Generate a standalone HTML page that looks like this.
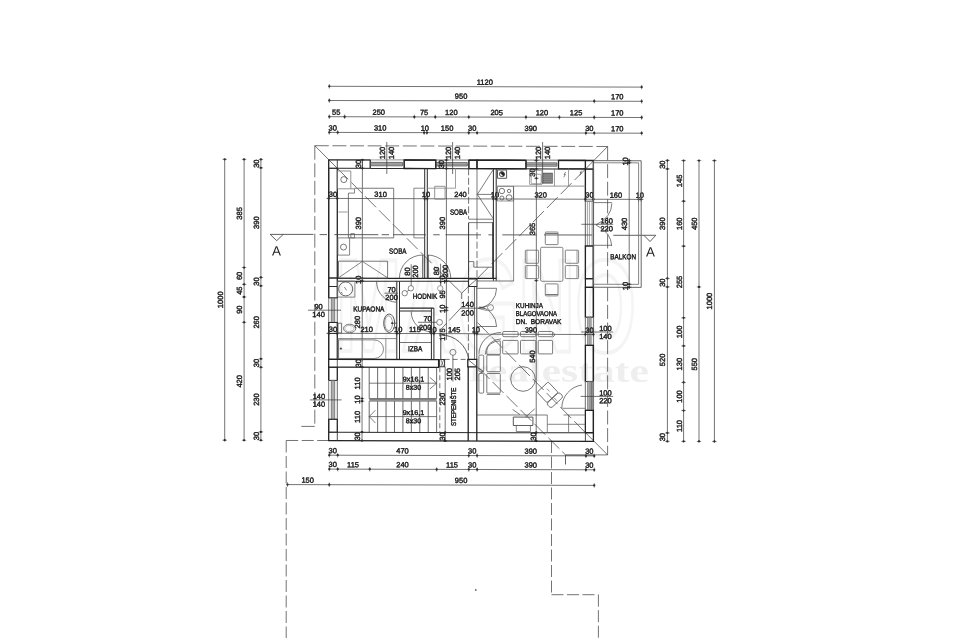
<!DOCTYPE html>
<html><head><meta charset="utf-8"><title>Floor plan</title>
<style>
html,body{margin:0;padding:0;background:#fff;}
body{width:979px;height:638px;overflow:hidden;font-family:"Liberation Sans",sans-serif;}
svg{display:block;position:absolute;left:0;top:0;font-family:"Liberation Sans",sans-serif;text-rendering:geometricPrecision;}
</style></head><body>
<svg width="979" height="638" viewBox="0 0 979 638">
<rect width="979" height="638" fill="#fff"/>
<defs><filter id="nf" x="0" y="0" width="979" height="638" filterUnits="userSpaceOnUse"><feOffset dx="0" dy="0"/></filter></defs>
<g filter="url(#nf)"><g transform="translate(329 160) skewY(0.15) translate(-329 -160)">
<line x1="329.3" y1="86.3" x2="641.67" y2="86.3" stroke="#383838" stroke-width="0.7"/>
<circle cx="329.3" cy="86.3" r="1.15" fill="#222"/>
<line x1="329.3" y1="84.1" x2="329.3" y2="88.5" stroke="#383838" stroke-width="0.6"/>
<circle cx="641.67" cy="86.3" r="1.15" fill="#222"/>
<line x1="641.67" y1="84.1" x2="641.67" y2="88.5" stroke="#383838" stroke-width="0.6"/>
<text x="484.78" y="84.3" font-size="7.5" text-anchor="middle" fill="#222" stroke="#222" stroke-width="0.42">1120</text>
<line x1="329.3" y1="100.5" x2="641.67" y2="100.5" stroke="#383838" stroke-width="0.7"/>
<circle cx="329.3" cy="100.5" r="1.15" fill="#222"/>
<line x1="329.3" y1="98.3" x2="329.3" y2="102.7" stroke="#383838" stroke-width="0.6"/>
<circle cx="594.25" cy="100.5" r="1.15" fill="#222"/>
<line x1="594.25" y1="98.3" x2="594.25" y2="102.7" stroke="#383838" stroke-width="0.6"/>
<circle cx="641.67" cy="100.5" r="1.15" fill="#222"/>
<line x1="641.67" y1="98.3" x2="641.67" y2="102.7" stroke="#383838" stroke-width="0.6"/>
<text x="461.08" y="98.5" font-size="7.5" text-anchor="middle" fill="#222" stroke="#222" stroke-width="0.42">950</text>
<text x="617.26" y="98.5" font-size="7.5" text-anchor="middle" fill="#222" stroke="#222" stroke-width="0.42">170</text>
<line x1="329.3" y1="116.7" x2="641.67" y2="116.7" stroke="#383838" stroke-width="0.7"/>
<circle cx="329.3" cy="116.7" r="1.15" fill="#222"/>
<line x1="329.3" y1="114.5" x2="329.3" y2="118.9" stroke="#383838" stroke-width="0.6"/>
<circle cx="344.64" cy="116.7" r="1.15" fill="#222"/>
<line x1="344.64" y1="114.5" x2="344.64" y2="118.9" stroke="#383838" stroke-width="0.6"/>
<circle cx="414.36" cy="116.7" r="1.15" fill="#222"/>
<line x1="414.36" y1="114.5" x2="414.36" y2="118.9" stroke="#383838" stroke-width="0.6"/>
<circle cx="435.28" cy="116.7" r="1.15" fill="#222"/>
<line x1="435.28" y1="114.5" x2="435.28" y2="118.9" stroke="#383838" stroke-width="0.6"/>
<circle cx="468.75" cy="116.7" r="1.15" fill="#222"/>
<line x1="468.75" y1="114.5" x2="468.75" y2="118.9" stroke="#383838" stroke-width="0.6"/>
<circle cx="525.92" cy="116.7" r="1.15" fill="#222"/>
<line x1="525.92" y1="114.5" x2="525.92" y2="118.9" stroke="#383838" stroke-width="0.6"/>
<circle cx="559.39" cy="116.7" r="1.15" fill="#222"/>
<line x1="559.39" y1="114.5" x2="559.39" y2="118.9" stroke="#383838" stroke-width="0.6"/>
<circle cx="594.25" cy="116.7" r="1.15" fill="#222"/>
<line x1="594.25" y1="114.5" x2="594.25" y2="118.9" stroke="#383838" stroke-width="0.6"/>
<circle cx="641.67" cy="116.7" r="1.15" fill="#222"/>
<line x1="641.67" y1="114.5" x2="641.67" y2="118.9" stroke="#383838" stroke-width="0.6"/>
<text x="336.27" y="114.7" font-size="7.5" text-anchor="middle" fill="#222" stroke="#222" stroke-width="0.42">55</text>
<text x="378.8" y="114.7" font-size="7.5" text-anchor="middle" fill="#222" stroke="#222" stroke-width="0.42">250</text>
<text x="424.12" y="114.7" font-size="7.5" text-anchor="middle" fill="#222" stroke="#222" stroke-width="0.42">75</text>
<text x="451.32" y="114.7" font-size="7.5" text-anchor="middle" fill="#222" stroke="#222" stroke-width="0.42">120</text>
<text x="496.64" y="114.7" font-size="7.5" text-anchor="middle" fill="#222" stroke="#222" stroke-width="0.42">205</text>
<text x="541.96" y="114.7" font-size="7.5" text-anchor="middle" fill="#222" stroke="#222" stroke-width="0.42">120</text>
<text x="576.12" y="114.7" font-size="7.5" text-anchor="middle" fill="#222" stroke="#222" stroke-width="0.42">125</text>
<text x="617.26" y="114.7" font-size="7.5" text-anchor="middle" fill="#222" stroke="#222" stroke-width="0.42">170</text>
<line x1="329.3" y1="132.4" x2="641.67" y2="132.4" stroke="#383838" stroke-width="0.7"/>
<circle cx="329.3" cy="132.4" r="1.15" fill="#222"/>
<line x1="329.3" y1="130.2" x2="329.3" y2="134.6" stroke="#383838" stroke-width="0.6"/>
<circle cx="337.67" cy="132.4" r="1.15" fill="#222"/>
<line x1="337.67" y1="130.2" x2="337.67" y2="134.6" stroke="#383838" stroke-width="0.6"/>
<circle cx="424.13" cy="132.4" r="1.15" fill="#222"/>
<line x1="424.13" y1="130.2" x2="424.13" y2="134.6" stroke="#383838" stroke-width="0.6"/>
<circle cx="426.92" cy="132.4" r="1.15" fill="#222"/>
<line x1="426.92" y1="130.2" x2="426.92" y2="134.6" stroke="#383838" stroke-width="0.6"/>
<circle cx="468.75" cy="132.4" r="1.15" fill="#222"/>
<line x1="468.75" y1="130.2" x2="468.75" y2="134.6" stroke="#383838" stroke-width="0.6"/>
<circle cx="477.12" cy="132.4" r="1.15" fill="#222"/>
<line x1="477.12" y1="130.2" x2="477.12" y2="134.6" stroke="#383838" stroke-width="0.6"/>
<circle cx="585.89" cy="132.4" r="1.15" fill="#222"/>
<line x1="585.89" y1="130.2" x2="585.89" y2="134.6" stroke="#383838" stroke-width="0.6"/>
<circle cx="594.25" cy="132.4" r="1.15" fill="#222"/>
<line x1="594.25" y1="130.2" x2="594.25" y2="134.6" stroke="#383838" stroke-width="0.6"/>
<circle cx="641.67" cy="132.4" r="1.15" fill="#222"/>
<line x1="641.67" y1="130.2" x2="641.67" y2="134.6" stroke="#383838" stroke-width="0.6"/>
<text x="332.78" y="130.4" font-size="7.5" text-anchor="middle" fill="#222" stroke="#222" stroke-width="0.42">30</text>
<text x="380.2" y="130.4" font-size="7.5" text-anchor="middle" fill="#222" stroke="#222" stroke-width="0.42">310</text>
<text x="424.82" y="130.4" font-size="7.5" text-anchor="middle" fill="#222" stroke="#222" stroke-width="0.42">10</text>
<text x="447.13" y="130.4" font-size="7.5" text-anchor="middle" fill="#222" stroke="#222" stroke-width="0.42">150</text>
<text x="472.23" y="130.4" font-size="7.5" text-anchor="middle" fill="#222" stroke="#222" stroke-width="0.42">30</text>
<text x="530.8" y="130.4" font-size="7.5" text-anchor="middle" fill="#222" stroke="#222" stroke-width="0.42">390</text>
<text x="589.37" y="130.4" font-size="7.5" text-anchor="middle" fill="#222" stroke="#222" stroke-width="0.42">30</text>
<text x="617.26" y="130.4" font-size="7.5" text-anchor="middle" fill="#222" stroke="#222" stroke-width="0.42">170</text>
<line x1="329.3" y1="455.2" x2="594.25" y2="455.2" stroke="#383838" stroke-width="0.7"/>
<circle cx="329.3" cy="455.2" r="1.15" fill="#222"/>
<line x1="329.3" y1="453" x2="329.3" y2="457.4" stroke="#383838" stroke-width="0.6"/>
<circle cx="337.67" cy="455.2" r="1.15" fill="#222"/>
<line x1="337.67" y1="453" x2="337.67" y2="457.4" stroke="#383838" stroke-width="0.6"/>
<circle cx="468.75" cy="455.2" r="1.15" fill="#222"/>
<line x1="468.75" y1="453" x2="468.75" y2="457.4" stroke="#383838" stroke-width="0.6"/>
<circle cx="477.12" cy="455.2" r="1.15" fill="#222"/>
<line x1="477.12" y1="453" x2="477.12" y2="457.4" stroke="#383838" stroke-width="0.6"/>
<circle cx="585.89" cy="455.2" r="1.15" fill="#222"/>
<line x1="585.89" y1="453" x2="585.89" y2="457.4" stroke="#383838" stroke-width="0.6"/>
<circle cx="594.25" cy="455.2" r="1.15" fill="#222"/>
<line x1="594.25" y1="453" x2="594.25" y2="457.4" stroke="#383838" stroke-width="0.6"/>
<text x="332.78" y="453.2" font-size="7.5" text-anchor="middle" fill="#222" stroke="#222" stroke-width="0.42">30</text>
<text x="402.51" y="453.2" font-size="7.5" text-anchor="middle" fill="#222" stroke="#222" stroke-width="0.42">470</text>
<text x="472.23" y="453.2" font-size="7.5" text-anchor="middle" fill="#222" stroke="#222" stroke-width="0.42">30</text>
<text x="530.8" y="453.2" font-size="7.5" text-anchor="middle" fill="#222" stroke="#222" stroke-width="0.42">390</text>
<text x="589.37" y="453.2" font-size="7.5" text-anchor="middle" fill="#222" stroke="#222" stroke-width="0.42">30</text>
<line x1="329.3" y1="469.1" x2="594.25" y2="469.1" stroke="#383838" stroke-width="0.7"/>
<circle cx="329.3" cy="469.1" r="1.15" fill="#222"/>
<line x1="329.3" y1="466.9" x2="329.3" y2="471.3" stroke="#383838" stroke-width="0.6"/>
<circle cx="337.67" cy="469.1" r="1.15" fill="#222"/>
<line x1="337.67" y1="466.9" x2="337.67" y2="471.3" stroke="#383838" stroke-width="0.6"/>
<circle cx="369.74" cy="469.1" r="1.15" fill="#222"/>
<line x1="369.74" y1="466.9" x2="369.74" y2="471.3" stroke="#383838" stroke-width="0.6"/>
<circle cx="436.68" cy="469.1" r="1.15" fill="#222"/>
<line x1="436.68" y1="466.9" x2="436.68" y2="471.3" stroke="#383838" stroke-width="0.6"/>
<circle cx="468.75" cy="469.1" r="1.15" fill="#222"/>
<line x1="468.75" y1="466.9" x2="468.75" y2="471.3" stroke="#383838" stroke-width="0.6"/>
<circle cx="477.12" cy="469.1" r="1.15" fill="#222"/>
<line x1="477.12" y1="466.9" x2="477.12" y2="471.3" stroke="#383838" stroke-width="0.6"/>
<circle cx="585.89" cy="469.1" r="1.15" fill="#222"/>
<line x1="585.89" y1="466.9" x2="585.89" y2="471.3" stroke="#383838" stroke-width="0.6"/>
<circle cx="594.25" cy="469.1" r="1.15" fill="#222"/>
<line x1="594.25" y1="466.9" x2="594.25" y2="471.3" stroke="#383838" stroke-width="0.6"/>
<text x="332.78" y="467.1" font-size="7.5" text-anchor="middle" fill="#222" stroke="#222" stroke-width="0.42">30</text>
<text x="353" y="467.1" font-size="7.5" text-anchor="middle" fill="#222" stroke="#222" stroke-width="0.42">115</text>
<text x="402.51" y="467.1" font-size="7.5" text-anchor="middle" fill="#222" stroke="#222" stroke-width="0.42">240</text>
<text x="452.01" y="467.1" font-size="7.5" text-anchor="middle" fill="#222" stroke="#222" stroke-width="0.42">115</text>
<text x="472.23" y="467.1" font-size="7.5" text-anchor="middle" fill="#222" stroke="#222" stroke-width="0.42">30</text>
<text x="530.8" y="467.1" font-size="7.5" text-anchor="middle" fill="#222" stroke="#222" stroke-width="0.42">390</text>
<text x="589.37" y="467.1" font-size="7.5" text-anchor="middle" fill="#222" stroke="#222" stroke-width="0.42">30</text>
<line x1="287.47" y1="484.7" x2="594.25" y2="484.7" stroke="#383838" stroke-width="0.7"/>
<circle cx="287.47" cy="484.7" r="1.15" fill="#222"/>
<line x1="287.47" y1="482.5" x2="287.47" y2="486.9" stroke="#383838" stroke-width="0.6"/>
<circle cx="329.3" cy="484.7" r="1.15" fill="#222"/>
<line x1="329.3" y1="482.5" x2="329.3" y2="486.9" stroke="#383838" stroke-width="0.6"/>
<circle cx="594.25" cy="484.7" r="1.15" fill="#222"/>
<line x1="594.25" y1="482.5" x2="594.25" y2="486.9" stroke="#383838" stroke-width="0.6"/>
<text x="307.68" y="482.7" font-size="7.5" text-anchor="middle" fill="#222" stroke="#222" stroke-width="0.42">150</text>
<text x="461.08" y="482.7" font-size="7.5" text-anchor="middle" fill="#222" stroke="#222" stroke-width="0.42">950</text>
<line x1="224.7" y1="159.6" x2="224.7" y2="440.5" stroke="#383838" stroke-width="0.7"/>
<circle cx="224.7" cy="159.6" r="1.15" fill="#222"/>
<line x1="222.5" y1="159.6" x2="226.9" y2="159.6" stroke="#383838" stroke-width="0.6"/>
<circle cx="224.7" cy="440.5" r="1.15" fill="#222"/>
<line x1="222.5" y1="440.5" x2="226.9" y2="440.5" stroke="#383838" stroke-width="0.6"/>
<text x="222.7" y="300.05" font-size="7.5" text-anchor="middle" fill="#222" stroke="#222" stroke-width="0.42" transform="rotate(-90 222.7 300.05)">1000</text>
<line x1="244.1" y1="159.6" x2="244.1" y2="440.5" stroke="#383838" stroke-width="0.7"/>
<circle cx="244.1" cy="159.6" r="1.15" fill="#222"/>
<line x1="241.9" y1="159.6" x2="246.3" y2="159.6" stroke="#383838" stroke-width="0.6"/>
<circle cx="244.1" cy="267.75" r="1.15" fill="#222"/>
<line x1="241.9" y1="267.75" x2="246.3" y2="267.75" stroke="#383838" stroke-width="0.6"/>
<circle cx="244.1" cy="284.6" r="1.15" fill="#222"/>
<line x1="241.9" y1="284.6" x2="246.3" y2="284.6" stroke="#383838" stroke-width="0.6"/>
<circle cx="244.1" cy="297.24" r="1.15" fill="#222"/>
<line x1="241.9" y1="297.24" x2="246.3" y2="297.24" stroke="#383838" stroke-width="0.6"/>
<circle cx="244.1" cy="322.52" r="1.15" fill="#222"/>
<line x1="241.9" y1="322.52" x2="246.3" y2="322.52" stroke="#383838" stroke-width="0.6"/>
<circle cx="244.1" cy="440.5" r="1.15" fill="#222"/>
<line x1="241.9" y1="440.5" x2="246.3" y2="440.5" stroke="#383838" stroke-width="0.6"/>
<text x="242.1" y="213.67" font-size="7.5" text-anchor="middle" fill="#222" stroke="#222" stroke-width="0.42" transform="rotate(-90 242.1 213.67)">385</text>
<text x="242.1" y="276.17" font-size="7.5" text-anchor="middle" fill="#222" stroke="#222" stroke-width="0.42" transform="rotate(-90 242.1 276.17)">60</text>
<text x="242.1" y="290.92" font-size="7.5" text-anchor="middle" fill="#222" stroke="#222" stroke-width="0.42" transform="rotate(-90 242.1 290.92)">45</text>
<text x="242.1" y="309.88" font-size="7.5" text-anchor="middle" fill="#222" stroke="#222" stroke-width="0.42" transform="rotate(-90 242.1 309.88)">90</text>
<text x="242.1" y="381.51" font-size="7.5" text-anchor="middle" fill="#222" stroke="#222" stroke-width="0.42" transform="rotate(-90 242.1 381.51)">420</text>
<line x1="260.9" y1="159.6" x2="260.9" y2="440.5" stroke="#383838" stroke-width="0.7"/>
<circle cx="260.9" cy="159.6" r="1.15" fill="#222"/>
<line x1="258.7" y1="159.6" x2="263.1" y2="159.6" stroke="#383838" stroke-width="0.6"/>
<circle cx="260.9" cy="168.03" r="1.15" fill="#222"/>
<line x1="258.7" y1="168.03" x2="263.1" y2="168.03" stroke="#383838" stroke-width="0.6"/>
<circle cx="260.9" cy="277.58" r="1.15" fill="#222"/>
<line x1="258.7" y1="277.58" x2="263.1" y2="277.58" stroke="#383838" stroke-width="0.6"/>
<circle cx="260.9" cy="286" r="1.15" fill="#222"/>
<line x1="258.7" y1="286" x2="263.1" y2="286" stroke="#383838" stroke-width="0.6"/>
<circle cx="260.9" cy="359.04" r="1.15" fill="#222"/>
<line x1="258.7" y1="359.04" x2="263.1" y2="359.04" stroke="#383838" stroke-width="0.6"/>
<circle cx="260.9" cy="367.47" r="1.15" fill="#222"/>
<line x1="258.7" y1="367.47" x2="263.1" y2="367.47" stroke="#383838" stroke-width="0.6"/>
<circle cx="260.9" cy="432.07" r="1.15" fill="#222"/>
<line x1="258.7" y1="432.07" x2="263.1" y2="432.07" stroke="#383838" stroke-width="0.6"/>
<circle cx="260.9" cy="440.5" r="1.15" fill="#222"/>
<line x1="258.7" y1="440.5" x2="263.1" y2="440.5" stroke="#383838" stroke-width="0.6"/>
<text x="258.9" y="163.81" font-size="7.5" text-anchor="middle" fill="#222" stroke="#222" stroke-width="0.42" transform="rotate(-90 258.9 163.81)">30</text>
<text x="258.9" y="222.8" font-size="7.5" text-anchor="middle" fill="#222" stroke="#222" stroke-width="0.42" transform="rotate(-90 258.9 222.8)">390</text>
<text x="258.9" y="281.79" font-size="7.5" text-anchor="middle" fill="#222" stroke="#222" stroke-width="0.42" transform="rotate(-90 258.9 281.79)">30</text>
<text x="258.9" y="322.52" font-size="7.5" text-anchor="middle" fill="#222" stroke="#222" stroke-width="0.42" transform="rotate(-90 258.9 322.52)">260</text>
<text x="258.9" y="363.25" font-size="7.5" text-anchor="middle" fill="#222" stroke="#222" stroke-width="0.42" transform="rotate(-90 258.9 363.25)">30</text>
<text x="258.9" y="399.77" font-size="7.5" text-anchor="middle" fill="#222" stroke="#222" stroke-width="0.42" transform="rotate(-90 258.9 399.77)">230</text>
<text x="258.9" y="436.29" font-size="7.5" text-anchor="middle" fill="#222" stroke="#222" stroke-width="0.42" transform="rotate(-90 258.9 436.29)">30</text>
<line x1="667.4" y1="159.6" x2="667.4" y2="440.5" stroke="#383838" stroke-width="0.7"/>
<circle cx="667.4" cy="159.6" r="1.15" fill="#222"/>
<line x1="665.2" y1="159.6" x2="669.6" y2="159.6" stroke="#383838" stroke-width="0.6"/>
<circle cx="667.4" cy="168.03" r="1.15" fill="#222"/>
<line x1="665.2" y1="168.03" x2="669.6" y2="168.03" stroke="#383838" stroke-width="0.6"/>
<circle cx="667.4" cy="277.58" r="1.15" fill="#222"/>
<line x1="665.2" y1="277.58" x2="669.6" y2="277.58" stroke="#383838" stroke-width="0.6"/>
<circle cx="667.4" cy="286" r="1.15" fill="#222"/>
<line x1="665.2" y1="286" x2="669.6" y2="286" stroke="#383838" stroke-width="0.6"/>
<circle cx="667.4" cy="432.07" r="1.15" fill="#222"/>
<line x1="665.2" y1="432.07" x2="669.6" y2="432.07" stroke="#383838" stroke-width="0.6"/>
<circle cx="667.4" cy="440.5" r="1.15" fill="#222"/>
<line x1="665.2" y1="440.5" x2="669.6" y2="440.5" stroke="#383838" stroke-width="0.6"/>
<text x="665.4" y="163.81" font-size="7.5" text-anchor="middle" fill="#222" stroke="#222" stroke-width="0.42" transform="rotate(-90 665.4 163.81)">30</text>
<text x="665.4" y="222.8" font-size="7.5" text-anchor="middle" fill="#222" stroke="#222" stroke-width="0.42" transform="rotate(-90 665.4 222.8)">390</text>
<text x="665.4" y="281.79" font-size="7.5" text-anchor="middle" fill="#222" stroke="#222" stroke-width="0.42" transform="rotate(-90 665.4 281.79)">30</text>
<text x="665.4" y="359.04" font-size="7.5" text-anchor="middle" fill="#222" stroke="#222" stroke-width="0.42" transform="rotate(-90 665.4 359.04)">520</text>
<text x="665.4" y="436.29" font-size="7.5" text-anchor="middle" fill="#222" stroke="#222" stroke-width="0.42" transform="rotate(-90 665.4 436.29)">30</text>
<line x1="683.6" y1="159.6" x2="683.6" y2="440.5" stroke="#383838" stroke-width="0.7"/>
<circle cx="683.6" cy="159.6" r="1.15" fill="#222"/>
<line x1="681.4" y1="159.6" x2="685.8" y2="159.6" stroke="#383838" stroke-width="0.6"/>
<circle cx="683.6" cy="200.33" r="1.15" fill="#222"/>
<line x1="681.4" y1="200.33" x2="685.8" y2="200.33" stroke="#383838" stroke-width="0.6"/>
<circle cx="683.6" cy="245.27" r="1.15" fill="#222"/>
<line x1="681.4" y1="245.27" x2="685.8" y2="245.27" stroke="#383838" stroke-width="0.6"/>
<circle cx="683.6" cy="316.9" r="1.15" fill="#222"/>
<line x1="681.4" y1="316.9" x2="685.8" y2="316.9" stroke="#383838" stroke-width="0.6"/>
<circle cx="683.6" cy="344.99" r="1.15" fill="#222"/>
<line x1="681.4" y1="344.99" x2="685.8" y2="344.99" stroke="#383838" stroke-width="0.6"/>
<circle cx="683.6" cy="381.51" r="1.15" fill="#222"/>
<line x1="681.4" y1="381.51" x2="685.8" y2="381.51" stroke="#383838" stroke-width="0.6"/>
<circle cx="683.6" cy="409.6" r="1.15" fill="#222"/>
<line x1="681.4" y1="409.6" x2="685.8" y2="409.6" stroke="#383838" stroke-width="0.6"/>
<circle cx="683.6" cy="440.5" r="1.15" fill="#222"/>
<line x1="681.4" y1="440.5" x2="685.8" y2="440.5" stroke="#383838" stroke-width="0.6"/>
<text x="681.6" y="179.97" font-size="7.5" text-anchor="middle" fill="#222" stroke="#222" stroke-width="0.42" transform="rotate(-90 681.6 179.97)">145</text>
<text x="681.6" y="222.8" font-size="7.5" text-anchor="middle" fill="#222" stroke="#222" stroke-width="0.42" transform="rotate(-90 681.6 222.8)">160</text>
<text x="681.6" y="281.09" font-size="7.5" text-anchor="middle" fill="#222" stroke="#222" stroke-width="0.42" transform="rotate(-90 681.6 281.09)">255</text>
<text x="681.6" y="330.95" font-size="7.5" text-anchor="middle" fill="#222" stroke="#222" stroke-width="0.42" transform="rotate(-90 681.6 330.95)">100</text>
<text x="681.6" y="363.25" font-size="7.5" text-anchor="middle" fill="#222" stroke="#222" stroke-width="0.42" transform="rotate(-90 681.6 363.25)">130</text>
<text x="681.6" y="395.56" font-size="7.5" text-anchor="middle" fill="#222" stroke="#222" stroke-width="0.42" transform="rotate(-90 681.6 395.56)">100</text>
<text x="681.6" y="425.05" font-size="7.5" text-anchor="middle" fill="#222" stroke="#222" stroke-width="0.42" transform="rotate(-90 681.6 425.05)">110</text>
<line x1="699" y1="159.6" x2="699" y2="440.5" stroke="#383838" stroke-width="0.7"/>
<circle cx="699" cy="159.6" r="1.15" fill="#222"/>
<line x1="696.8" y1="159.6" x2="701.2" y2="159.6" stroke="#383838" stroke-width="0.6"/>
<circle cx="699" cy="286" r="1.15" fill="#222"/>
<line x1="696.8" y1="286" x2="701.2" y2="286" stroke="#383838" stroke-width="0.6"/>
<circle cx="699" cy="440.5" r="1.15" fill="#222"/>
<line x1="696.8" y1="440.5" x2="701.2" y2="440.5" stroke="#383838" stroke-width="0.6"/>
<text x="697" y="222.8" font-size="7.5" text-anchor="middle" fill="#222" stroke="#222" stroke-width="0.42" transform="rotate(-90 697 222.8)">450</text>
<text x="697" y="363.25" font-size="7.5" text-anchor="middle" fill="#222" stroke="#222" stroke-width="0.42" transform="rotate(-90 697 363.25)">550</text>
<line x1="714.4" y1="159.6" x2="714.4" y2="440.5" stroke="#383838" stroke-width="0.7"/>
<circle cx="714.4" cy="159.6" r="1.15" fill="#222"/>
<line x1="712.2" y1="159.6" x2="716.6" y2="159.6" stroke="#383838" stroke-width="0.6"/>
<circle cx="714.4" cy="440.5" r="1.15" fill="#222"/>
<line x1="712.2" y1="440.5" x2="716.6" y2="440.5" stroke="#383838" stroke-width="0.6"/>
<text x="712.4" y="300.05" font-size="7.5" text-anchor="middle" fill="#222" stroke="#222" stroke-width="0.42" transform="rotate(-90 712.4 300.05)">1000</text>
<text x="336" y="351" font-size="132" font-weight="bold" fill="none" stroke="#f4f4f4" stroke-width="4" textLength="300" lengthAdjust="spacingAndGlyphs">MAGNO</text>
<text x="469" y="381" font-size="33" font-weight="bold" font-family="Liberation Serif, serif" fill="#eeeeee" textLength="180" lengthAdjust="spacingAndGlyphs">realestate</text>
<line x1="314.8" y1="145.74" x2="607.6" y2="145.77" stroke="#383838" stroke-width="0.7" stroke-dasharray="14 3.6"/>
<line x1="607.6" y1="145.77" x2="607.6" y2="454.17" stroke="#383838" stroke-width="0.7" stroke-dasharray="14 3.6"/>
<line x1="314.8" y1="145.74" x2="314.8" y2="426.44" stroke="#383838" stroke-width="0.7" stroke-dasharray="14 3.6"/>
<line x1="314.8" y1="426.44" x2="301.3" y2="426.47" stroke="#383838" stroke-width="0.7" stroke-dasharray="14 3.6"/>
<line x1="607.6" y1="454.17" x2="594.5" y2="454.2" stroke="#383838" stroke-width="0.7" stroke-dasharray="14 3.6"/>
<line x1="565.5" y1="454.28" x2="565.5" y2="463.88" stroke="#383838" stroke-width="0.8"/>
<line x1="565.5" y1="454.28" x2="594" y2="454.21" stroke="#383838" stroke-width="1"/>
<line x1="286.2" y1="440.61" x2="329" y2="440.5" stroke="#383838" stroke-width="0.7" stroke-dasharray="12 3.5"/>
<line x1="286.2" y1="440.61" x2="286.2" y2="640.11" stroke="#383838" stroke-width="0.7" stroke-dasharray="12 3.5"/>
<line x1="551.5" y1="440.42" x2="551.5" y2="594.12" stroke="#383838" stroke-width="0.7" stroke-dasharray="12 3.5"/>
<line x1="551.5" y1="594.12" x2="598.4" y2="593.99" stroke="#383838" stroke-width="0.7" stroke-dasharray="12 3.5"/>
<line x1="598.4" y1="593.99" x2="598.4" y2="639.29" stroke="#383838" stroke-width="0.7" stroke-dasharray="12 3.5"/>
<line x1="314.8" y1="145.74" x2="337.3" y2="168.28" stroke="#383838" stroke-width="0.7"/>
<line x1="607.6" y1="145.77" x2="585.4" y2="168.43" stroke="#383838" stroke-width="0.7"/>
<line x1="607.6" y1="454.17" x2="585.4" y2="431.93" stroke="#383838" stroke-width="0.7"/>
<line x1="337.3" y1="168.28" x2="456.8" y2="288.17" stroke="#383838" stroke-width="0.7" stroke-dasharray="15.5 4.2"/>
<line x1="585.4" y1="168.43" x2="477.2" y2="278.21" stroke="#383838" stroke-width="0.7" stroke-dasharray="15.5 4.2"/>
<line x1="477" y1="278.61" x2="468.4" y2="286.04" stroke="#383838" stroke-width="0.7"/>
<line x1="468.4" y1="286.24" x2="461.7" y2="292.85" stroke="#383838" stroke-width="0.7"/>
<line x1="456.6" y1="287.87" x2="461.7" y2="292.85" stroke="#383838" stroke-width="0.7"/>
<line x1="461.7" y1="292.85" x2="461.7" y2="298.65" stroke="#383838" stroke-width="0.7"/>
<line x1="461.2" y1="307.25" x2="440.5" y2="329.51" stroke="#383838" stroke-width="0.7" stroke-dasharray="17.5 4"/>
<line x1="477.6" y1="322.21" x2="585.4" y2="431.93" stroke="#383838" stroke-width="0.7" stroke-dasharray="15.5 4.2"/>
<line x1="478.6" y1="367.61" x2="565.5" y2="454.28" stroke="#383838" stroke-width="0.7" stroke-dasharray="15.5 4.2"/>
<rect x="328.7" y="159.8" width="264.7" height="280.8" fill="none" stroke="#222" stroke-width="1.3"/>
<rect x="337.3" y="168.3" width="248.1" height="263.9" fill="none" stroke="#2a2a2a" stroke-width="1"/>
<line x1="337.3" y1="159.8" x2="337.3" y2="168.3" stroke="#383838" stroke-width="0.9"/>
<line x1="328.7" y1="168.3" x2="337.3" y2="168.3" stroke="#383838" stroke-width="0.9"/>
<line x1="585.4" y1="159.8" x2="585.4" y2="168.3" stroke="#383838" stroke-width="0.9"/>
<line x1="585.4" y1="168.3" x2="593.4" y2="168.3" stroke="#383838" stroke-width="0.9"/>
<line x1="585.4" y1="432.2" x2="585.4" y2="440.6" stroke="#383838" stroke-width="0.9"/>
<line x1="585.4" y1="432.2" x2="593.4" y2="432.2" stroke="#383838" stroke-width="0.9"/>
<line x1="337.3" y1="432.2" x2="337.3" y2="440.6" stroke="#383838" stroke-width="0.9"/>
<line x1="328.7" y1="432.2" x2="337.3" y2="432.2" stroke="#383838" stroke-width="0.9"/>
<rect x="370.5" y="159" width="33.7" height="10.1" fill="#fff" stroke="none" stroke-width="0"/>
<line x1="370.5" y1="159.8" x2="404.2" y2="159.8" stroke="#777" stroke-width="0.7"/>
<line x1="370.5" y1="168.3" x2="404.2" y2="168.3" stroke="#2c2c2c" stroke-width="1"/>
<line x1="370.5" y1="159.8" x2="370.5" y2="168.3" stroke="#2c2c2c" stroke-width="0.9"/>
<line x1="404.2" y1="159.8" x2="404.2" y2="168.3" stroke="#2c2c2c" stroke-width="0.9"/>
<rect x="370.5" y="162.25" width="32.1" height="3.4" fill="#b4b4b4" stroke="#444" stroke-width="0.7"/>
<line x1="370.5" y1="163.95" x2="402.6" y2="163.95" stroke="#666" stroke-width="0.6"/>
<rect x="435.8" y="159" width="33.1" height="10.1" fill="#fff" stroke="none" stroke-width="0"/>
<line x1="435.8" y1="159.8" x2="468.9" y2="159.8" stroke="#777" stroke-width="0.7"/>
<line x1="435.8" y1="168.3" x2="468.9" y2="168.3" stroke="#2c2c2c" stroke-width="1"/>
<line x1="435.8" y1="159.8" x2="435.8" y2="168.3" stroke="#2c2c2c" stroke-width="0.9"/>
<line x1="468.9" y1="159.8" x2="468.9" y2="168.3" stroke="#2c2c2c" stroke-width="0.9"/>
<rect x="435.8" y="162.25" width="31.5" height="3.4" fill="#b4b4b4" stroke="#444" stroke-width="0.7"/>
<line x1="435.8" y1="163.95" x2="467.3" y2="163.95" stroke="#666" stroke-width="0.6"/>
<rect x="526" y="159" width="32.5" height="10.1" fill="#fff" stroke="none" stroke-width="0"/>
<line x1="526" y1="159.8" x2="558.5" y2="159.8" stroke="#777" stroke-width="0.7"/>
<line x1="526" y1="168.3" x2="558.5" y2="168.3" stroke="#2c2c2c" stroke-width="1"/>
<line x1="526" y1="159.8" x2="526" y2="168.3" stroke="#2c2c2c" stroke-width="0.9"/>
<line x1="558.5" y1="159.8" x2="558.5" y2="168.3" stroke="#2c2c2c" stroke-width="0.9"/>
<rect x="526" y="162.25" width="30.9" height="3.4" fill="#b4b4b4" stroke="#444" stroke-width="0.7"/>
<line x1="526" y1="163.95" x2="556.9" y2="163.95" stroke="#666" stroke-width="0.6"/>
<rect x="404.2" y="159.8" width="31.6" height="8.5" fill="none" stroke="#222" stroke-width="1.3"/>
<rect x="468.9" y="159.8" width="8.1" height="8.5" fill="none" stroke="#222" stroke-width="1.2"/>
<rect x="477" y="159.8" width="49" height="8.5" fill="none" stroke="#222" stroke-width="1.3"/>
<rect x="558.5" y="159.8" width="26.9" height="8.5" fill="none" stroke="#222" stroke-width="1.3"/>
<line x1="362.4" y1="159.8" x2="362.4" y2="168.3" stroke="#383838" stroke-width="0.7"/>
<line x1="369.8" y1="159.8" x2="369.8" y2="168.3" stroke="#383838" stroke-width="0.7"/>
<rect x="585.4" y="168.42" width="8" height="32.3" fill="none" stroke="#222" stroke-width="1.3"/>
<rect x="584.6" y="200.72" width="9.6" height="44.6" fill="#fff" stroke="none" stroke-width="0"/>
<line x1="585.4" y1="200.73" x2="585.4" y2="245.33" stroke="#444" stroke-width="0.8"/>
<line x1="587.4" y1="200.72" x2="587.4" y2="245.32" stroke="#666" stroke-width="0.6"/>
<line x1="589.4" y1="200.72" x2="589.4" y2="245.32" stroke="#666" stroke-width="0.6"/>
<line x1="592" y1="200.71" x2="592" y2="245.31" stroke="#666" stroke-width="0.6"/>
<line x1="593.4" y1="200.71" x2="593.4" y2="245.31" stroke="#444" stroke-width="0.8"/>
<rect x="585.4" y="245.32" width="8" height="32.6" fill="none" stroke="#222" stroke-width="1.3"/>
<rect x="585.4" y="277.92" width="8" height="8.7" fill="none" stroke="#222" stroke-width="1.1"/>
<rect x="585.4" y="286.62" width="8" height="30" fill="none" stroke="#222" stroke-width="1.3"/>
<rect x="584.6" y="316.62" width="9.6" height="28" fill="#fff" stroke="none" stroke-width="0"/>
<line x1="585.4" y1="316.63" x2="585.4" y2="344.63" stroke="#555" stroke-width="0.8"/>
<line x1="593.4" y1="316.61" x2="593.4" y2="344.61" stroke="#444" stroke-width="0.8"/>
<line x1="585.4" y1="316.63" x2="593.4" y2="316.61" stroke="#2c2c2c" stroke-width="0.9"/>
<line x1="585.4" y1="344.63" x2="593.4" y2="344.61" stroke="#2c2c2c" stroke-width="0.9"/>
<rect x="587.7" y="316.62" width="3.4" height="28" fill="#c4c4c4" stroke="#555" stroke-width="0.7"/>
<line x1="589.4" y1="316.62" x2="589.4" y2="344.62" stroke="#777" stroke-width="0.6"/>
<rect x="585.4" y="344.62" width="8" height="36.3" fill="none" stroke="#222" stroke-width="1.3"/>
<rect x="584.6" y="380.92" width="9.6" height="28.7" fill="#fff" stroke="none" stroke-width="0"/>
<line x1="585.4" y1="380.93" x2="585.4" y2="409.63" stroke="#555" stroke-width="0.8"/>
<line x1="593.4" y1="380.91" x2="593.4" y2="409.61" stroke="#444" stroke-width="0.8"/>
<line x1="585.4" y1="380.93" x2="593.4" y2="380.91" stroke="#2c2c2c" stroke-width="0.9"/>
<line x1="585.4" y1="409.63" x2="593.4" y2="409.61" stroke="#2c2c2c" stroke-width="0.9"/>
<rect x="587.7" y="380.92" width="3.4" height="28.7" fill="#c4c4c4" stroke="#555" stroke-width="0.7"/>
<line x1="589.4" y1="380.92" x2="589.4" y2="409.62" stroke="#777" stroke-width="0.6"/>
<line x1="591.8" y1="380.91" x2="591.8" y2="409.61" stroke="#777" stroke-width="2"/>
<rect x="585.4" y="409.62" width="8" height="22.3" fill="none" stroke="#222" stroke-width="1.2"/>
<rect x="328.7" y="168.29" width="8.6" height="109.7" fill="none" stroke="#2a2a2a" stroke-width="1"/>
<rect x="328.7" y="277.99" width="8.6" height="8.5" fill="none" stroke="#2a2a2a" stroke-width="1"/>
<rect x="328.7" y="286.49" width="8.6" height="11.5" fill="none" stroke="#2a2a2a" stroke-width="1"/>
<rect x="327.9" y="297.99" width="10.2" height="24.4" fill="#fff" stroke="none" stroke-width="0"/>
<line x1="328.7" y1="298" x2="328.7" y2="322.4" stroke="#555" stroke-width="0.8"/>
<line x1="337.3" y1="297.98" x2="337.3" y2="322.38" stroke="#444" stroke-width="0.8"/>
<line x1="328.7" y1="298" x2="337.3" y2="297.98" stroke="#2c2c2c" stroke-width="0.9"/>
<line x1="328.7" y1="322.4" x2="337.3" y2="322.38" stroke="#2c2c2c" stroke-width="0.9"/>
<rect x="331.3" y="297.99" width="3.4" height="24.4" fill="#c4c4c4" stroke="#555" stroke-width="0.7"/>
<line x1="333" y1="297.99" x2="333" y2="322.39" stroke="#777" stroke-width="0.6"/>
<rect x="328.7" y="322.39" width="8.6" height="11" fill="none" stroke="#2a2a2a" stroke-width="1"/>
<rect x="328.7" y="333.39" width="8.6" height="26" fill="none" stroke="#2a2a2a" stroke-width="1"/>
<rect x="328.7" y="367.19" width="8.6" height="13.2" fill="none" stroke="#2a2a2a" stroke-width="1"/>
<rect x="327.9" y="380.39" width="10.2" height="38.9" fill="#fff" stroke="none" stroke-width="0"/>
<line x1="328.7" y1="380.4" x2="328.7" y2="419.3" stroke="#555" stroke-width="0.8"/>
<line x1="337.3" y1="380.38" x2="337.3" y2="419.28" stroke="#444" stroke-width="0.8"/>
<line x1="328.7" y1="380.4" x2="337.3" y2="380.38" stroke="#2c2c2c" stroke-width="0.9"/>
<line x1="328.7" y1="419.3" x2="337.3" y2="419.28" stroke="#2c2c2c" stroke-width="0.9"/>
<rect x="331.3" y="380.39" width="3.4" height="38.9" fill="#c4c4c4" stroke="#555" stroke-width="0.7"/>
<line x1="333" y1="380.39" x2="333" y2="419.29" stroke="#777" stroke-width="0.6"/>
<rect x="328.7" y="419.29" width="8.6" height="12.9" fill="none" stroke="#2a2a2a" stroke-width="1"/>
<line x1="424.7" y1="168.05" x2="424.7" y2="278.15" stroke="#2a2a2a" stroke-width="1"/>
<line x1="427.3" y1="168.04" x2="427.3" y2="278.14" stroke="#2a2a2a" stroke-width="1"/>
<line x1="493.4" y1="167.87" x2="493.4" y2="280.37" stroke="#2a2a2a" stroke-width="1"/>
<line x1="496.2" y1="167.86" x2="496.2" y2="280.36" stroke="#2a2a2a" stroke-width="1"/>
<line x1="337.3" y1="278.38" x2="496.2" y2="277.96" stroke="#222" stroke-width="1.3"/>
<line x1="337.3" y1="281.18" x2="468.4" y2="280.84" stroke="#2a2a2a" stroke-width="1"/>
<line x1="477" y1="280.61" x2="513.8" y2="280.52" stroke="#383838" stroke-width="0.7"/>
<rect x="468.4" y="278.62" width="8.6" height="7.4" fill="none" stroke="#2a2a2a" stroke-width="1"/>
<line x1="468.6" y1="167.93" x2="468.6" y2="218.83" stroke="#383838" stroke-width="0.7" stroke-dasharray="7 2.5"/>
<line x1="468.4" y1="286.04" x2="468.4" y2="359.04" stroke="#383838" stroke-width="0.7" stroke-dasharray="7 2.5"/>
<line x1="477" y1="222.21" x2="477" y2="278.61" stroke="#383838" stroke-width="0.7" stroke-dasharray="7 2.5"/>
<line x1="474.5" y1="286.02" x2="474.5" y2="359.02" stroke="#383838" stroke-width="0.7"/>
<line x1="476.8" y1="286.01" x2="476.8" y2="359.01" stroke="#383838" stroke-width="0.9"/>
<line x1="396.8" y1="281.02" x2="396.8" y2="359.22" stroke="#2a2a2a" stroke-width="1"/>
<line x1="399.5" y1="281.02" x2="399.5" y2="359.22" stroke="#2a2a2a" stroke-width="1"/>
<line x1="399.5" y1="307.92" x2="433.8" y2="307.83" stroke="#222" stroke-width="1.3"/>
<line x1="399.5" y1="310.82" x2="431.4" y2="310.73" stroke="#2a2a2a" stroke-width="1"/>
<line x1="431.4" y1="307.83" x2="431.4" y2="359.13" stroke="#2a2a2a" stroke-width="1"/>
<line x1="433.9" y1="307.83" x2="433.9" y2="359.13" stroke="#2a2a2a" stroke-width="1"/>
<line x1="399.5" y1="342.32" x2="431.4" y2="342.23" stroke="#383838" stroke-width="0.7"/>
<rect x="328.7" y="359.26" width="109.9" height="7.8" fill="#fff" stroke="#222" stroke-width="1.3"/>
<line x1="337.3" y1="359.38" x2="337.3" y2="367.18" stroke="#383838" stroke-width="0.8"/>
<rect x="439.6" y="359.1" width="5" height="7.4" fill="none" stroke="#333" stroke-width="1"/>
<line x1="441" y1="359.71" x2="443.6" y2="366.1" stroke="#383838" stroke-width="0.6"/>
<line x1="443.6" y1="359.7" x2="441" y2="366.11" stroke="#383838" stroke-width="0.6"/>
<line x1="444.6" y1="359.1" x2="467.8" y2="359.04" stroke="#383838" stroke-width="0.7" stroke-dasharray="5 3"/>
<rect x="467.8" y="359.02" width="9" height="7.4" fill="none" stroke="#222" stroke-width="1.3"/>
<line x1="467.8" y1="359.04" x2="476.8" y2="366.41" stroke="#383838" stroke-width="0.7"/>
<line x1="468.2" y1="366.44" x2="468.2" y2="440.64" stroke="#222" stroke-width="1.3"/>
<line x1="476.8" y1="366.41" x2="476.8" y2="440.61" stroke="#222" stroke-width="1.3"/>
<line x1="439.8" y1="366.91" x2="439.8" y2="431.91" stroke="#383838" stroke-width="0.7" stroke-dasharray="5 3"/>
<line x1="445.2" y1="366.5" x2="445.2" y2="440.3" stroke="#383838" stroke-width="0.7"/>
<line x1="270.2" y1="234.55" x2="313.5" y2="234.44" stroke="#383838" stroke-width="0.8"/>
<polyline points="270.2,234.55 276.7,240.84 283.2,234.52" fill="none" stroke="#383838" stroke-width="0.8"/>
<text x="276.5" y="255.6" font-size="13.4" text-anchor="middle" fill="#222">A</text>
<line x1="319.6" y1="234.62" x2="327" y2="234.62" stroke="#383838" stroke-width="0.8"/>
<line x1="334.3" y1="234.61" x2="378.4" y2="234.56" stroke="#383838" stroke-width="0.8"/>
<line x1="381.7" y1="234.55" x2="389" y2="234.55" stroke="#383838" stroke-width="0.8"/>
<line x1="393" y1="234.54" x2="425.8" y2="234.51" stroke="#383838" stroke-width="0.8"/>
<line x1="433.2" y1="234.5" x2="439.7" y2="234.49" stroke="#383838" stroke-width="0.8"/>
<line x1="445.5" y1="234.48" x2="481" y2="234.44" stroke="#383838" stroke-width="0.8"/>
<line x1="488.4" y1="234.44" x2="494.1" y2="234.43" stroke="#383838" stroke-width="0.8"/>
<line x1="502.3" y1="234.42" x2="536.6" y2="234.38" stroke="#383838" stroke-width="0.8"/>
<line x1="544" y1="234.37" x2="592.2" y2="234.32" stroke="#383838" stroke-width="0.8"/>
<line x1="613.3" y1="234.56" x2="655.8" y2="234.44" stroke="#383838" stroke-width="0.8"/>
<polyline points="643.9,234.48 650,240.66 655.8,234.44" fill="none" stroke="#383838" stroke-width="0.8"/>
<text x="650.5" y="255.6" font-size="13.4" text-anchor="middle" fill="#222">A</text>
<line x1="326.5" y1="198.41" x2="643.4" y2="198.58" stroke="#383838" stroke-width="0.7"/>
<circle cx="328.7" cy="198.41" r="1.15" fill="#222"/>
<line x1="328.7" y1="196.21" x2="328.7" y2="200.61" stroke="#383838" stroke-width="0.6"/>
<circle cx="337.3" cy="198.41" r="1.15" fill="#222"/>
<line x1="337.3" y1="196.21" x2="337.3" y2="200.61" stroke="#383838" stroke-width="0.6"/>
<circle cx="424.7" cy="198.45" r="1.15" fill="#222"/>
<line x1="424.7" y1="196.25" x2="424.7" y2="200.65" stroke="#383838" stroke-width="0.6"/>
<circle cx="427.3" cy="198.45" r="1.15" fill="#222"/>
<line x1="427.3" y1="196.25" x2="427.3" y2="200.65" stroke="#383838" stroke-width="0.6"/>
<circle cx="493.4" cy="198.47" r="1.15" fill="#222"/>
<line x1="493.4" y1="196.27" x2="493.4" y2="200.67" stroke="#383838" stroke-width="0.6"/>
<circle cx="496.2" cy="198.47" r="1.15" fill="#222"/>
<line x1="496.2" y1="196.27" x2="496.2" y2="200.67" stroke="#383838" stroke-width="0.6"/>
<circle cx="585.4" cy="198.51" r="1.15" fill="#222"/>
<line x1="585.4" y1="196.31" x2="585.4" y2="200.71" stroke="#383838" stroke-width="0.6"/>
<circle cx="593.4" cy="198.51" r="1.15" fill="#222"/>
<line x1="593.4" y1="196.31" x2="593.4" y2="200.71" stroke="#383838" stroke-width="0.6"/>
<circle cx="638.6" cy="198.53" r="1.15" fill="#222"/>
<line x1="638.6" y1="196.33" x2="638.6" y2="200.73" stroke="#383838" stroke-width="0.6"/>
<circle cx="641.2" cy="198.53" r="1.15" fill="#222"/>
<line x1="641.2" y1="196.33" x2="641.2" y2="200.73" stroke="#383838" stroke-width="0.6"/>
<text x="333" y="196.89" font-size="7.5" text-anchor="middle" fill="#222" stroke="#222" stroke-width="0.42">30</text>
<text x="380.6" y="196.76" font-size="7.5" text-anchor="middle" fill="#222" stroke="#222" stroke-width="0.42">310</text>
<text x="426" y="196.85" font-size="7.5" text-anchor="middle" fill="#222" stroke="#222" stroke-width="0.42">10</text>
<text x="460.5" y="196.76" font-size="7.5" text-anchor="middle" fill="#222" stroke="#222" stroke-width="0.42">240</text>
<text x="494.9" y="196.87" font-size="7.5" text-anchor="middle" fill="#222" stroke="#222" stroke-width="0.42">10</text>
<text x="540.7" y="196.95" font-size="7.5" text-anchor="middle" fill="#222" stroke="#222" stroke-width="0.42">320</text>
<text x="589.4" y="196.92" font-size="7.5" text-anchor="middle" fill="#222" stroke="#222" stroke-width="0.42">30</text>
<text x="615.9" y="196.95" font-size="7.5" text-anchor="middle" fill="#222" stroke="#222" stroke-width="0.42">160</text>
<text x="639.8" y="196.89" font-size="7.5" text-anchor="middle" fill="#222" stroke="#222" stroke-width="0.42">10</text>
<line x1="362.4" y1="159.71" x2="362.3" y2="278.31" stroke="#383838" stroke-width="0.7"/>
<circle cx="362.4" cy="159.71" r="1.15" fill="#222"/>
<line x1="360.2" y1="159.71" x2="364.6" y2="159.71" stroke="#383838" stroke-width="0.6"/>
<circle cx="362.4" cy="168.21" r="1.15" fill="#222"/>
<line x1="360.2" y1="168.21" x2="364.6" y2="168.21" stroke="#383838" stroke-width="0.6"/>
<text x="361.3" y="163.92" font-size="7.5" text-anchor="middle" fill="#222" stroke="#222" stroke-width="0.42" transform="rotate(-90 361.3 163.92)">30</text>
<text x="361.5" y="223.12" font-size="7.5" text-anchor="middle" fill="#222" stroke="#222" stroke-width="0.42" transform="rotate(-90 361.5 223.12)">390</text>
<line x1="362.3" y1="278.31" x2="362" y2="440.51" stroke="#383838" stroke-width="0.7"/>
<circle cx="362.3" cy="278.31" r="1.15" fill="#222"/>
<line x1="360.1" y1="278.31" x2="364.5" y2="278.31" stroke="#383838" stroke-width="0.6"/>
<circle cx="362.3" cy="281.11" r="1.15" fill="#222"/>
<line x1="360.1" y1="281.11" x2="364.5" y2="281.11" stroke="#383838" stroke-width="0.6"/>
<text x="361.1" y="279.72" font-size="7.5" text-anchor="middle" fill="#222" stroke="#222" stroke-width="0.42" transform="rotate(-90 361.1 279.72)">10</text>
<text x="360.3" y="322.03" font-size="7.5" text-anchor="middle" fill="#222" stroke="#222" stroke-width="0.42" transform="rotate(-90 360.3 322.03)">280</text>
<circle cx="362.2" cy="359.31" r="1.15" fill="#222"/>
<line x1="360" y1="359.31" x2="364.4" y2="359.31" stroke="#383838" stroke-width="0.6"/>
<circle cx="362.2" cy="367.11" r="1.15" fill="#222"/>
<line x1="360" y1="367.11" x2="364.4" y2="367.11" stroke="#383838" stroke-width="0.6"/>
<text x="360.9" y="363.22" font-size="7.5" text-anchor="middle" fill="#222" stroke="#222" stroke-width="0.42" transform="rotate(-90 360.9 363.22)">30</text>
<text x="360.5" y="383.32" font-size="7.5" text-anchor="middle" fill="#222" stroke="#222" stroke-width="0.42" transform="rotate(-90 360.5 383.32)">110</text>
<circle cx="362.1" cy="398.51" r="1.15" fill="#222"/>
<line x1="359.9" y1="398.51" x2="364.3" y2="398.51" stroke="#383838" stroke-width="0.6"/>
<circle cx="362.1" cy="401.11" r="1.15" fill="#222"/>
<line x1="359.9" y1="401.11" x2="364.3" y2="401.11" stroke="#383838" stroke-width="0.6"/>
<text x="360.3" y="399.53" font-size="7.5" text-anchor="middle" fill="#222" stroke="#222" stroke-width="0.42" transform="rotate(-90 360.3 399.53)">10</text>
<text x="360.2" y="416.83" font-size="7.5" text-anchor="middle" fill="#222" stroke="#222" stroke-width="0.42" transform="rotate(-90 360.2 416.83)">110</text>
<circle cx="362" cy="432.11" r="1.15" fill="#222"/>
<line x1="359.8" y1="432.11" x2="364.2" y2="432.11" stroke="#383838" stroke-width="0.6"/>
<circle cx="362" cy="440.51" r="1.15" fill="#222"/>
<line x1="359.8" y1="440.51" x2="364.2" y2="440.51" stroke="#383838" stroke-width="0.6"/>
<text x="360.2" y="436.33" font-size="7.5" text-anchor="middle" fill="#222" stroke="#222" stroke-width="0.42" transform="rotate(-90 360.2 436.33)">30</text>
<line x1="446.4" y1="162.69" x2="446.4" y2="167.99" stroke="#383838" stroke-width="0.7"/>
<line x1="446.4" y1="159.79" x2="446.4" y2="339.69" stroke="#383838" stroke-width="0.7"/>
<circle cx="446.4" cy="159.79" r="1.15" fill="#222"/>
<line x1="444.2" y1="159.79" x2="448.6" y2="159.79" stroke="#383838" stroke-width="0.6"/>
<circle cx="446.4" cy="168.29" r="1.15" fill="#222"/>
<line x1="444.2" y1="168.29" x2="448.6" y2="168.29" stroke="#383838" stroke-width="0.6"/>
<text x="444.3" y="163.91" font-size="7.5" text-anchor="middle" fill="#222" stroke="#222" stroke-width="0.42" transform="rotate(-90 444.3 163.91)">30</text>
<text x="445.4" y="222.9" font-size="7.5" text-anchor="middle" fill="#222" stroke="#222" stroke-width="0.42" transform="rotate(-90 445.4 222.9)">390</text>
<circle cx="446.4" cy="278.09" r="1.15" fill="#222"/>
<line x1="444.2" y1="278.09" x2="448.6" y2="278.09" stroke="#383838" stroke-width="0.6"/>
<circle cx="446.4" cy="280.89" r="1.15" fill="#222"/>
<line x1="444.2" y1="280.89" x2="448.6" y2="280.89" stroke="#383838" stroke-width="0.6"/>
<text x="444.9" y="279.3" font-size="7.5" text-anchor="middle" fill="#222" stroke="#222" stroke-width="0.42" transform="rotate(-90 444.9 279.3)">10</text>
<text x="445.4" y="294.1" font-size="7.5" text-anchor="middle" fill="#222" stroke="#222" stroke-width="0.42" transform="rotate(-90 445.4 294.1)">95</text>
<circle cx="446.4" cy="307.29" r="1.15" fill="#222"/>
<line x1="444.2" y1="307.29" x2="448.6" y2="307.29" stroke="#383838" stroke-width="0.6"/>
<circle cx="446.4" cy="310.09" r="1.15" fill="#222"/>
<line x1="444.2" y1="310.09" x2="448.6" y2="310.09" stroke="#383838" stroke-width="0.6"/>
<text x="444.9" y="308.5" font-size="7.5" text-anchor="middle" fill="#222" stroke="#222" stroke-width="0.42" transform="rotate(-90 444.9 308.5)">10</text>
<text x="444.9" y="334.3" font-size="7.5" text-anchor="middle" fill="#222" stroke="#222" stroke-width="0.42" transform="rotate(-90 444.9 334.3)">175</text>
<line x1="536.4" y1="156.46" x2="536.2" y2="440.56" stroke="#383838" stroke-width="0.7"/>
<circle cx="536.4" cy="159.96" r="1.15" fill="#222"/>
<line x1="534.2" y1="159.96" x2="538.6" y2="159.96" stroke="#383838" stroke-width="0.6"/>
<circle cx="536.4" cy="168.46" r="1.15" fill="#222"/>
<line x1="534.2" y1="168.46" x2="538.6" y2="168.46" stroke="#383838" stroke-width="0.6"/>
<circle cx="536.4" cy="177.76" r="1.15" fill="#222"/>
<line x1="534.2" y1="177.76" x2="538.6" y2="177.76" stroke="#383838" stroke-width="0.6"/>
<text x="535.1" y="171.97" font-size="7.5" text-anchor="middle" fill="#222" stroke="#222" stroke-width="0.42" transform="rotate(-90 535.1 171.97)">30</text>
<text x="535.3" y="228.47" font-size="7.5" text-anchor="middle" fill="#222" stroke="#222" stroke-width="0.42" transform="rotate(-90 535.3 228.47)">365</text>
<circle cx="536.3" cy="280.06" r="1.15" fill="#222"/>
<line x1="534.1" y1="280.06" x2="538.5" y2="280.06" stroke="#383838" stroke-width="0.6"/>
<text x="535.4" y="356.07" font-size="7.5" text-anchor="middle" fill="#222" stroke="#222" stroke-width="0.42" transform="rotate(-90 535.4 356.07)">540</text>
<circle cx="536.2" cy="431.96" r="1.15" fill="#222"/>
<line x1="534" y1="431.96" x2="538.4" y2="431.96" stroke="#383838" stroke-width="0.6"/>
<circle cx="536.2" cy="440.56" r="1.15" fill="#222"/>
<line x1="534" y1="440.56" x2="538.4" y2="440.56" stroke="#383838" stroke-width="0.6"/>
<text x="535.6" y="436.07" font-size="7.5" text-anchor="middle" fill="#222" stroke="#222" stroke-width="0.42" transform="rotate(-90 535.6 436.07)">30</text>
<line x1="326.5" y1="333.31" x2="478.6" y2="333.31" stroke="#383838" stroke-width="0.7"/>
<circle cx="328.7" cy="333.4" r="1.15" fill="#222"/>
<line x1="328.7" y1="331.2" x2="328.7" y2="335.6" stroke="#383838" stroke-width="0.6"/>
<circle cx="337.3" cy="333.38" r="1.15" fill="#222"/>
<line x1="337.3" y1="331.18" x2="337.3" y2="335.58" stroke="#383838" stroke-width="0.6"/>
<circle cx="396.8" cy="333.22" r="1.15" fill="#222"/>
<line x1="396.8" y1="331.02" x2="396.8" y2="335.42" stroke="#383838" stroke-width="0.6"/>
<circle cx="399.5" cy="333.22" r="1.15" fill="#222"/>
<line x1="399.5" y1="331.02" x2="399.5" y2="335.42" stroke="#383838" stroke-width="0.6"/>
<circle cx="431.4" cy="333.13" r="1.15" fill="#222"/>
<line x1="431.4" y1="330.93" x2="431.4" y2="335.33" stroke="#383838" stroke-width="0.6"/>
<circle cx="433.9" cy="333.13" r="1.15" fill="#222"/>
<line x1="433.9" y1="330.93" x2="433.9" y2="335.33" stroke="#383838" stroke-width="0.6"/>
<circle cx="474.5" cy="333.02" r="1.15" fill="#222"/>
<line x1="474.5" y1="330.82" x2="474.5" y2="335.22" stroke="#383838" stroke-width="0.6"/>
<circle cx="476.8" cy="333.01" r="1.15" fill="#222"/>
<line x1="476.8" y1="330.81" x2="476.8" y2="335.21" stroke="#383838" stroke-width="0.6"/>
<text x="333" y="331.89" font-size="7.5" text-anchor="middle" fill="#222" stroke="#222" stroke-width="0.42">30</text>
<text x="366.7" y="331.8" font-size="7.5" text-anchor="middle" fill="#222" stroke="#222" stroke-width="0.42">210</text>
<text x="398.2" y="331.92" font-size="7.5" text-anchor="middle" fill="#222" stroke="#222" stroke-width="0.42">10</text>
<text x="414.9" y="331.88" font-size="7.5" text-anchor="middle" fill="#222" stroke="#222" stroke-width="0.42">115</text>
<text x="432.6" y="332.03" font-size="7.5" text-anchor="middle" fill="#222" stroke="#222" stroke-width="0.42">10</text>
<text x="454.2" y="331.97" font-size="7.5" text-anchor="middle" fill="#222" stroke="#222" stroke-width="0.42">145</text>
<text x="475.8" y="331.92" font-size="7.5" text-anchor="middle" fill="#222" stroke="#222" stroke-width="0.42">10</text>
<line x1="477" y1="333.81" x2="594.3" y2="333.81" stroke="#383838" stroke-width="0.7"/>
<circle cx="585.4" cy="333.73" r="1.15" fill="#222"/>
<line x1="585.4" y1="331.53" x2="585.4" y2="335.93" stroke="#383838" stroke-width="0.6"/>
<circle cx="593.4" cy="333.71" r="1.15" fill="#222"/>
<line x1="593.4" y1="331.51" x2="593.4" y2="335.91" stroke="#383838" stroke-width="0.6"/>
<text x="530.9" y="332.07" font-size="7.5" text-anchor="middle" fill="#222" stroke="#222" stroke-width="0.42">390</text>
<text x="589.4" y="332.02" font-size="7.5" text-anchor="middle" fill="#222" stroke="#222" stroke-width="0.42">30</text>
<circle cx="445.2" cy="432.2" r="1.15" fill="#222"/>
<line x1="443" y1="432.2" x2="447.4" y2="432.2" stroke="#383838" stroke-width="0.6"/>
<circle cx="445.2" cy="440.6" r="1.15" fill="#222"/>
<line x1="443" y1="440.6" x2="447.4" y2="440.6" stroke="#383838" stroke-width="0.6"/>
<text x="445.3" y="436.2" font-size="7.5" text-anchor="middle" fill="#222" stroke="#222" stroke-width="0.42" transform="rotate(-90 445.3 436.2)">30</text>
<text x="444.9" y="398.9" font-size="7.5" text-anchor="middle" fill="#222" stroke="#222" stroke-width="0.42" transform="rotate(-90 444.9 398.9)">230</text>
<rect x="593.4" y="159.95" width="47.8" height="126.6" fill="none" stroke="#555" stroke-width="0.9"/>
<rect x="593.4" y="162.05" width="45.2" height="121.5" fill="none" stroke="#666" stroke-width="0.8"/>
<line x1="629.2" y1="157.81" x2="629.2" y2="288.01" stroke="#383838" stroke-width="0.7"/>
<circle cx="629.2" cy="159.91" r="1.15" fill="#222"/>
<line x1="627" y1="159.91" x2="631.4" y2="159.91" stroke="#383838" stroke-width="0.6"/>
<circle cx="629.2" cy="162.01" r="1.15" fill="#222"/>
<line x1="627" y1="162.01" x2="631.4" y2="162.01" stroke="#383838" stroke-width="0.6"/>
<circle cx="629.2" cy="283.51" r="1.15" fill="#222"/>
<line x1="627" y1="283.51" x2="631.4" y2="283.51" stroke="#383838" stroke-width="0.6"/>
<circle cx="629.2" cy="286.51" r="1.15" fill="#222"/>
<line x1="627" y1="286.51" x2="631.4" y2="286.51" stroke="#383838" stroke-width="0.6"/>
<text x="627.9" y="160.62" font-size="7.5" text-anchor="middle" fill="#222" stroke="#222" stroke-width="0.42" transform="rotate(-90 627.9 160.62)">10</text>
<text x="627.3" y="223.23" font-size="7.5" text-anchor="middle" fill="#222" stroke="#222" stroke-width="0.42" transform="rotate(-90 627.3 223.23)">430</text>
<text x="627.9" y="285.22" font-size="7.5" text-anchor="middle" fill="#222" stroke="#222" stroke-width="0.42" transform="rotate(-90 627.9 285.22)">10</text>
<line x1="386.8" y1="141.85" x2="386.8" y2="173.85" stroke="#383838" stroke-width="0.7"/>
<text x="385.2" y="152.86" font-size="7.5" text-anchor="middle" fill="#222" stroke="#222" stroke-width="0.42" transform="rotate(-90 385.2 152.86)">120</text>
<text x="393.8" y="152.84" font-size="7.5" text-anchor="middle" fill="#222" stroke="#222" stroke-width="0.42" transform="rotate(-90 393.8 152.84)">140</text>
<line x1="452.6" y1="141.68" x2="452.6" y2="173.68" stroke="#383838" stroke-width="0.7"/>
<text x="451" y="152.69" font-size="7.5" text-anchor="middle" fill="#222" stroke="#222" stroke-width="0.42" transform="rotate(-90 451 152.69)">120</text>
<text x="459.6" y="152.67" font-size="7.5" text-anchor="middle" fill="#222" stroke="#222" stroke-width="0.42" transform="rotate(-90 459.6 152.67)">140</text>
<line x1="542.6" y1="141.44" x2="542.6" y2="183.44" stroke="#383838" stroke-width="0.7"/>
<text x="541" y="152.45" font-size="7.5" text-anchor="middle" fill="#222" stroke="#222" stroke-width="0.42" transform="rotate(-90 541 152.45)">120</text>
<text x="549.6" y="152.43" font-size="7.5" text-anchor="middle" fill="#222" stroke="#222" stroke-width="0.42" transform="rotate(-90 549.6 152.43)">140</text>
<line x1="309.9" y1="399.95" x2="341.6" y2="399.87" stroke="#383838" stroke-width="0.7"/>
<text x="318.9" y="399.03" font-size="7.5" text-anchor="middle" fill="#222" stroke="#222" stroke-width="0.42">140</text>
<text x="318.9" y="406.83" font-size="7.5" text-anchor="middle" fill="#222" stroke="#222" stroke-width="0.42">140</text>
<line x1="308" y1="310.25" x2="341" y2="310.17" stroke="#383838" stroke-width="0.7"/>
<text x="318.6" y="309.33" font-size="7.5" text-anchor="middle" fill="#222" stroke="#222" stroke-width="0.42">90</text>
<text x="318.6" y="317.13" font-size="7.5" text-anchor="middle" fill="#222" stroke="#222" stroke-width="0.42">140</text>
<line x1="581.3" y1="331.34" x2="613.2" y2="331.26" stroke="#383838" stroke-width="0.7"/>
<text x="605.4" y="330.38" font-size="7.5" text-anchor="middle" fill="#222" stroke="#222" stroke-width="0.42">100</text>
<text x="605.4" y="338.18" font-size="7.5" text-anchor="middle" fill="#222" stroke="#222" stroke-width="0.42">140</text>
<line x1="580.6" y1="395.74" x2="613.2" y2="395.66" stroke="#383838" stroke-width="0.7"/>
<text x="605.4" y="394.78" font-size="7.5" text-anchor="middle" fill="#222" stroke="#222" stroke-width="0.42">100</text>
<text x="605.4" y="402.58" font-size="7.5" text-anchor="middle" fill="#222" stroke="#222" stroke-width="0.42">220</text>
<line x1="581.3" y1="223.64" x2="613.2" y2="223.56" stroke="#383838" stroke-width="0.7"/>
<text x="606.7" y="222.67" font-size="7.5" text-anchor="middle" fill="#222" stroke="#222" stroke-width="0.42">160</text>
<text x="606.7" y="230.47" font-size="7.5" text-anchor="middle" fill="#222" stroke="#222" stroke-width="0.42">220</text>
<rect x="337.3" y="170.96" width="13.5" height="17.8" fill="none" stroke="#888" stroke-width="0.9"/>
<circle cx="343.8" cy="179.56" r="3" fill="none" stroke="#555" stroke-width="0.8"/>
<polyline points="350.8,188.74 354.5,188.73 354.5,193.03 348.4,193.05" fill="none" stroke="#555" stroke-width="0.7"/>
<line x1="348.4" y1="193.05" x2="348.4" y2="237.85" stroke="#555" stroke-width="0.8"/>
<line x1="338.5" y1="211.98" x2="347.6" y2="211.95" stroke="#999" stroke-width="1.2"/>
<line x1="354.5" y1="188.23" x2="393.7" y2="188.13" stroke="#777" stroke-width="1"/>
<line x1="393.7" y1="188.13" x2="393.7" y2="237.73" stroke="#555" stroke-width="0.8"/>
<line x1="348.4" y1="237.85" x2="393.7" y2="237.73" stroke="#555" stroke-width="0.8"/>
<rect x="350.8" y="233.54" width="3.7" height="4.3" fill="none" stroke="#555" stroke-width="0.7"/>
<rect x="337.9" y="237.86" width="11.7" height="17.2" fill="none" stroke="#666" stroke-width="0.8"/>
<circle cx="343.5" cy="247.06" r="3" fill="none" stroke="#555" stroke-width="0.8"/>
<rect x="338.5" y="261.11" width="49.1" height="17" fill="none" stroke="#555" stroke-width="0.8"/>
<line x1="338.5" y1="277.78" x2="362.4" y2="261.31" stroke="#555" stroke-width="0.7"/>
<line x1="362.4" y1="261.31" x2="387.6" y2="277.65" stroke="#555" stroke-width="0.7"/>
<line x1="413.9" y1="187.98" x2="424.7" y2="187.95" stroke="#555" stroke-width="0.7"/>
<line x1="413.9" y1="187.98" x2="413.9" y2="237.68" stroke="#555" stroke-width="0.7"/>
<line x1="413.9" y1="237.68" x2="424.7" y2="237.65" stroke="#555" stroke-width="0.7"/>
<line x1="422.8" y1="254.85" x2="422.8" y2="278.15" stroke="#444" stroke-width="1"/>
<path d="M399.4 278.15 A23.4 23.4 0 0 1 422.8 254.75" fill="none" stroke="#444" stroke-width="0.7"/>
<line x1="411.2" y1="264.08" x2="411.2" y2="285.48" stroke="#383838" stroke-width="0.7"/>
<text x="409.6" y="271.3" font-size="7.5" text-anchor="middle" fill="#222" stroke="#222" stroke-width="0.42" transform="rotate(-90 409.6 271.3)">80</text>
<text x="418.2" y="271.27" font-size="7.5" text-anchor="middle" fill="#222" stroke="#222" stroke-width="0.42" transform="rotate(-90 418.2 271.27)">200</text>
<circle cx="410.9" cy="288.09" r="2.7" fill="none" stroke="#555" stroke-width="0.7"/>
<circle cx="404.7" cy="293" r="2.7" fill="none" stroke="#555" stroke-width="0.7"/>
<line x1="409.2" y1="289.99" x2="406.6" y2="291.4" stroke="#383838" stroke-width="0.6"/>
<text x="397.8" y="253.56" font-size="7.6" text-anchor="middle" fill="#222" stroke="#222" stroke-width="0.42" textLength="17.4" lengthAdjust="spacingAndGlyphs">SOBA</text>
<line x1="427.3" y1="187.94" x2="455.5" y2="187.87" stroke="#888" stroke-width="0.8"/>
<line x1="455.5" y1="167.97" x2="455.5" y2="187.87" stroke="#888" stroke-width="0.8"/>
<rect x="434.7" y="186.01" width="10.4" height="12.9" fill="none" stroke="#888" stroke-width="0.9"/>
<line x1="477" y1="167.91" x2="477" y2="222.11" stroke="#444" stroke-width="0.7"/>
<line x1="493" y1="169.57" x2="477.3" y2="194.01" stroke="#444" stroke-width="0.7"/>
<line x1="477.3" y1="194.01" x2="493" y2="217.77" stroke="#444" stroke-width="0.7"/>
<line x1="477.3" y1="194.01" x2="493.4" y2="193.97" stroke="#444" stroke-width="0.7"/>
<line x1="469" y1="218.83" x2="493.4" y2="218.77" stroke="#444" stroke-width="0.7"/>
<line x1="469" y1="222.23" x2="493.4" y2="222.17" stroke="#444" stroke-width="0.7"/>
<line x1="468.6" y1="222.23" x2="468.6" y2="286.03" stroke="#333" stroke-width="1"/>
<line x1="492.8" y1="222.17" x2="492.8" y2="277.97" stroke="#333" stroke-width="1.2"/>
<polyline points="469,261.23 473.8,261.22 473.8,266.82 492.8,266.77" fill="none" stroke="#555" stroke-width="0.8"/>
<line x1="428.2" y1="254.84" x2="428.2" y2="278.14" stroke="#444" stroke-width="1"/>
<path d="M427.4 254.74 A23.4 23.4 0 0 1 450.8 278.14" fill="none" stroke="#444" stroke-width="0.7"/>
<line x1="440.6" y1="263.41" x2="440.6" y2="285.41" stroke="#383838" stroke-width="0.7"/>
<text x="439" y="270.72" font-size="7.5" text-anchor="middle" fill="#222" stroke="#222" stroke-width="0.42" transform="rotate(-90 439 270.72)">80</text>
<text x="447.6" y="270.7" font-size="7.5" text-anchor="middle" fill="#222" stroke="#222" stroke-width="0.42" transform="rotate(-90 447.6 270.7)">200</text>
<circle cx="440.2" cy="288.01" r="2.7" fill="none" stroke="#777" stroke-width="0.7"/>
<text x="458.6" y="214.4" font-size="7.6" text-anchor="middle" fill="#222" stroke="#222" stroke-width="0.42" textLength="17.4" lengthAdjust="spacingAndGlyphs">SOBA</text>
<rect x="497.5" y="169.55" width="9.1" height="8.3" fill="none" stroke="#444" stroke-width="0.9"/>
<circle cx="501.9" cy="173.65" r="2.5" fill="none" stroke="#222" stroke-width="0.8"/>
<path d="M500.13 172.33 A2.5 2.5 0 0 1 503.67 175.87 Z" fill="#222" stroke="#222" stroke-width="0.5"/>
<rect x="497.5" y="185.94" width="16" height="14.6" fill="none" stroke="#777" stroke-width="0.8"/>
<circle cx="501.9" cy="190.55" r="2.7" fill="none" stroke="#555" stroke-width="0.8"/>
<circle cx="509.1" cy="190.53" r="1.7" fill="none" stroke="#555" stroke-width="0.8"/>
<circle cx="501.9" cy="197.55" r="2" fill="none" stroke="#555" stroke-width="0.8"/>
<circle cx="509.1" cy="197.13" r="2.9" fill="none" stroke="#555" stroke-width="0.8"/>
<line x1="496.2" y1="185.66" x2="585.4" y2="185.43" stroke="#888" stroke-width="0.9"/>
<line x1="513.6" y1="185.62" x2="513.6" y2="280.52" stroke="#555" stroke-width="0.7"/>
<line x1="554.5" y1="167.71" x2="554.5" y2="185.51" stroke="#777" stroke-width="0.7"/>
<line x1="568.5" y1="167.67" x2="568.5" y2="185.47" stroke="#777" stroke-width="0.7"/>
<rect x="529.6" y="169.86" width="12.3" height="14" fill="none" stroke="#777" stroke-width="0.7"/>
<rect x="531.2" y="173.66" width="10" height="9.6" fill="none" stroke="#777" stroke-width="0.7" rx="1.5"/>
<rect x="543" y="172.53" width="9.6" height="10.2" fill="#777" stroke="#555" stroke-width="0.6"/>
<line x1="543.4" y1="174.44" x2="552.2" y2="174.42" stroke="#aaa" stroke-width="0.5"/>
<line x1="543.4" y1="176.54" x2="552.2" y2="176.52" stroke="#aaa" stroke-width="0.5"/>
<line x1="543.4" y1="178.64" x2="552.2" y2="178.62" stroke="#aaa" stroke-width="0.5"/>
<line x1="543.4" y1="180.74" x2="552.2" y2="180.72" stroke="#aaa" stroke-width="0.5"/>
<polyline points="565.6,171.38 564.2,173.98 565.4,173.78 563.8,176.59" fill="none" stroke="#333" stroke-width="0.6"/>
<polyline points="581.6,169.94 580.2,172.34 581.4,172.14 579.8,174.74" fill="none" stroke="#333" stroke-width="0.6"/>
<rect x="540.6" y="246.72" width="22.3" height="34" fill="none" stroke="#666" stroke-width="0.8" rx="1.2"/>
<rect x="545.3" y="231.42" width="12.7" height="12.6" fill="none" stroke="#666" stroke-width="0.8" rx="0.8"/>
<line x1="545.3" y1="232.83" x2="558" y2="232.8" stroke="#777" stroke-width="1"/>
<rect x="545.3" y="283.32" width="12.7" height="12" fill="none" stroke="#666" stroke-width="0.8" rx="0.8"/>
<line x1="545.3" y1="293.93" x2="558" y2="293.9" stroke="#777" stroke-width="1"/>
<rect x="525.3" y="249.67" width="13.3" height="13.1" fill="none" stroke="#666" stroke-width="0.8" rx="0.8"/>
<line x1="526.9" y1="249.68" x2="526.9" y2="262.78" stroke="#777" stroke-width="0.7"/>
<rect x="525.3" y="265.07" width="13.3" height="13" fill="none" stroke="#666" stroke-width="0.8" rx="0.8"/>
<line x1="526.9" y1="265.08" x2="526.9" y2="278.08" stroke="#777" stroke-width="0.7"/>
<rect x="565.3" y="249.56" width="13.3" height="13.1" fill="none" stroke="#666" stroke-width="0.8" rx="0.8"/>
<line x1="577" y1="249.55" x2="577" y2="262.65" stroke="#777" stroke-width="0.7"/>
<rect x="565.3" y="264.96" width="13.3" height="13" fill="none" stroke="#666" stroke-width="0.8" rx="0.8"/>
<line x1="577" y1="264.95" x2="577" y2="277.95" stroke="#777" stroke-width="0.7"/>
<line x1="593.9" y1="201.91" x2="611.9" y2="201.86" stroke="#444" stroke-width="0.7"/>
<path d="M611.9 202.6 Q611.6 216.5 595.9 224.2" fill="none" stroke="#444" stroke-width="0.7"/>
<line x1="593.9" y1="244.61" x2="611.7" y2="244.56" stroke="#444" stroke-width="0.7"/>
<path d="M611.7 245.3 Q611.4 232.0 595.9 224.2" fill="none" stroke="#444" stroke-width="0.7"/>
<text x="623.2" y="258.42" font-size="7.2" text-anchor="middle" fill="#222" stroke="#222" stroke-width="0.42" textLength="25.7" lengthAdjust="spacingAndGlyphs">BALKON</text>
<text x="515.8" y="307.51" font-size="7" fill="#222" stroke="#222" stroke-width="0.42" textLength="27.2" lengthAdjust="spacingAndGlyphs">KUHINJA</text>
<text x="515.8" y="315.51" font-size="7" fill="#222" stroke="#222" stroke-width="0.42" textLength="41.3" lengthAdjust="spacingAndGlyphs">BLAGOVAONA</text>
<text x="515.8" y="323.41" font-size="7" fill="#222" stroke="#222" stroke-width="0.42" textLength="45.6" lengthAdjust="spacingAndGlyphs">DN.&#160;&#160;BORAVAK</text>
<rect x="337.7" y="281.15" width="17.2" height="15.9" fill="none" stroke="#777" stroke-width="0.9"/>
<circle cx="345.7" cy="288.86" r="7" fill="none" stroke="#444" stroke-width="0.8"/>
<line x1="344.4" y1="286.96" x2="346.6" y2="290.35" stroke="#383838" stroke-width="0.6"/>
<line x1="341.2" y1="291.97" x2="342.4" y2="293.56" stroke="#383838" stroke-width="0.6"/>
<text x="368.8" y="311.49" font-size="7.2" text-anchor="middle" fill="#222" stroke="#222" stroke-width="0.42" textLength="31.3" lengthAdjust="spacingAndGlyphs">KUPAONA</text>
<rect x="338" y="323.17" width="3.6" height="9.8" fill="none" stroke="#555" stroke-width="0.8"/>
<ellipse cx="349.6" cy="328.45" rx="6.1" ry="4.3" fill="none" stroke="#555" stroke-width="0.8"/>
<ellipse cx="349.4" cy="328.45" rx="4.4" ry="3" fill="none" stroke="#888" stroke-width="0.6"/>
<ellipse cx="389.2" cy="323.04" rx="5.5" ry="9.2" fill="none" stroke="#444" stroke-width="0.9"/>
<ellipse cx="388.6" cy="323.04" rx="3.9" ry="7.4" fill="none" stroke="#777" stroke-width="0.7"/>
<line x1="391.4" y1="323.04" x2="396.8" y2="323.02" stroke="#383838" stroke-width="0.7"/>
<circle cx="392.2" cy="323.03" r="0.8" fill="#333" stroke="#383838" stroke-width="0.5"/>
<line x1="337.3" y1="338.58" x2="396.8" y2="338.42" stroke="#666" stroke-width="0.8"/>
<line x1="385.8" y1="338.45" x2="385.8" y2="359.25" stroke="#777" stroke-width="0.7"/>
<path d="M338.4 339.8 L374.2 339.8 A9.3 9.3 0 0 1 374.2 358.4 L338.4 358.4 Z" fill="none" stroke="#666" stroke-width="0.8"/>
<circle cx="340.9" cy="348.57" r="0.8" fill="#333" stroke="#383838" stroke-width="0.5"/>
<line x1="338.4" y1="339.78" x2="338.4" y2="358.38" stroke="#777" stroke-width="1.4"/>
<path d="M396.8 302.02 A20.2 20.2 0 0 1 376.6 281.82" fill="none" stroke="#444" stroke-width="0.7"/>
<line x1="384.5" y1="293.05" x2="398" y2="293.02" stroke="#383838" stroke-width="0.7"/>
<text x="391.6" y="292.14" font-size="7.5" text-anchor="middle" fill="#222" stroke="#222" stroke-width="0.42">70</text>
<text x="391.6" y="299.94" font-size="7.5" text-anchor="middle" fill="#222" stroke="#222" stroke-width="0.42">200</text>
<path d="M431.4 331.53 A20.2 20.2 0 0 1 411.2 311.33" fill="none" stroke="#444" stroke-width="0.7"/>
<line x1="418" y1="322.07" x2="436.8" y2="322.02" stroke="#383838" stroke-width="0.7"/>
<text x="427.6" y="321.04" font-size="7.5" text-anchor="middle" fill="#222" stroke="#222" stroke-width="0.42">70</text>
<text x="425.2" y="329.85" font-size="7.5" text-anchor="middle" fill="#222" stroke="#222" stroke-width="0.42">200</text>
<circle cx="439.6" cy="322.01" r="2.9" fill="none" stroke="#555" stroke-width="0.7"/>
<text x="415.2" y="350.97" font-size="7.2" text-anchor="middle" fill="#222" stroke="#222" stroke-width="0.42" textLength="14.4" lengthAdjust="spacingAndGlyphs">IZBA</text>
<text x="425" y="298.54" font-size="7.2" text-anchor="middle" fill="#222" stroke="#222" stroke-width="0.42" textLength="24.6" lengthAdjust="spacingAndGlyphs">HODNIK</text>
<line x1="476.8" y1="287.91" x2="496.6" y2="287.86" stroke="#444" stroke-width="0.7"/>
<path d="M496.6 287.91 A19.8 19.8 0 0 1 479.21 307.57" fill="none" stroke="#444" stroke-width="0.7"/>
<line x1="476.8" y1="326.11" x2="496.6" y2="326.06" stroke="#444" stroke-width="0.7"/>
<path d="M496.6 326.11 A19.8 19.8 0 0 0 479.21 306.46" fill="none" stroke="#444" stroke-width="0.7"/>
<line x1="460.5" y1="307.86" x2="485" y2="307.79" stroke="#383838" stroke-width="0.7"/>
<text x="467.6" y="306.54" font-size="7.5" text-anchor="middle" fill="#222" stroke="#222" stroke-width="0.42">140</text>
<text x="467.6" y="315.14" font-size="7.5" text-anchor="middle" fill="#222" stroke="#222" stroke-width="0.42">200</text>
<circle cx="490.5" cy="307.18" r="3" fill="none" stroke="#555" stroke-width="0.7"/>
<path d="M478 308 L487.4 305.6 M478 308 L487.4 310.2" fill="none" stroke="#444" stroke-width="0.6"/>
<line x1="440.8" y1="334.61" x2="440.8" y2="359.11" stroke="#444" stroke-width="1"/>
<path d="M440.8 334.61 A28.2 28.2 0 0 1 468.73 358.88" fill="none" stroke="#333" stroke-width="0.8"/>
<circle cx="452.9" cy="351.98" r="3" fill="none" stroke="#555" stroke-width="0.7"/>
<line x1="452.9" y1="354.88" x2="452.9" y2="381.18" stroke="#383838" stroke-width="0.7"/>
<text x="451.6" y="373.89" font-size="7.5" text-anchor="middle" fill="#222" stroke="#222" stroke-width="0.42" transform="rotate(-90 451.6 373.89)">100</text>
<text x="460.3" y="373.86" font-size="7.5" text-anchor="middle" fill="#222" stroke="#222" stroke-width="0.42" transform="rotate(-90 460.3 373.86)">205</text>
<text x="456.12" y="406.47" font-size="7" text-anchor="middle" fill="#222" stroke="#222" stroke-width="0.42" transform="rotate(-90 456.12 406.47)" textLength="38.6" lengthAdjust="spacingAndGlyphs">STEPENIŠTE</text>
<polyline points="478,367.41 483.6,370.8 478.6,373.81" fill="none" stroke="#444" stroke-width="0.7"/>
<line x1="369.2" y1="367.09" x2="369.2" y2="398.69" stroke="#3a3a3a" stroke-width="0.75"/>
<line x1="369.2" y1="401.09" x2="369.2" y2="432.09" stroke="#3a3a3a" stroke-width="0.75"/>
<line x1="377.63" y1="367.07" x2="377.63" y2="398.67" stroke="#3a3a3a" stroke-width="0.75"/>
<line x1="377.63" y1="401.07" x2="377.63" y2="432.07" stroke="#3a3a3a" stroke-width="0.75"/>
<line x1="386.06" y1="367.05" x2="386.06" y2="398.65" stroke="#3a3a3a" stroke-width="0.75"/>
<line x1="386.06" y1="401.05" x2="386.06" y2="432.05" stroke="#3a3a3a" stroke-width="0.75"/>
<line x1="394.49" y1="367.03" x2="394.49" y2="398.63" stroke="#3a3a3a" stroke-width="0.75"/>
<line x1="394.49" y1="401.03" x2="394.49" y2="432.03" stroke="#3a3a3a" stroke-width="0.75"/>
<line x1="402.92" y1="367.01" x2="402.92" y2="398.61" stroke="#3a3a3a" stroke-width="0.75"/>
<line x1="402.92" y1="401.01" x2="402.92" y2="432.01" stroke="#3a3a3a" stroke-width="0.75"/>
<line x1="411.35" y1="366.98" x2="411.35" y2="398.58" stroke="#3a3a3a" stroke-width="0.75"/>
<line x1="411.35" y1="400.98" x2="411.35" y2="431.98" stroke="#3a3a3a" stroke-width="0.75"/>
<line x1="419.78" y1="366.96" x2="419.78" y2="398.56" stroke="#3a3a3a" stroke-width="0.75"/>
<line x1="419.78" y1="400.96" x2="419.78" y2="431.96" stroke="#3a3a3a" stroke-width="0.75"/>
<line x1="428.21" y1="366.94" x2="428.21" y2="398.54" stroke="#3a3a3a" stroke-width="0.75"/>
<line x1="428.21" y1="400.94" x2="428.21" y2="431.94" stroke="#3a3a3a" stroke-width="0.75"/>
<line x1="436.64" y1="366.92" x2="436.64" y2="398.52" stroke="#3a3a3a" stroke-width="0.75"/>
<line x1="436.64" y1="400.92" x2="436.64" y2="431.92" stroke="#3a3a3a" stroke-width="0.75"/>
<line x1="369.2" y1="398.39" x2="436.6" y2="398.22" stroke="#555" stroke-width="0.8"/>
<line x1="369.2" y1="400.99" x2="436.6" y2="400.82" stroke="#555" stroke-width="0.8"/>
<line x1="369.2" y1="399.69" x2="436.6" y2="399.52" stroke="#808080" stroke-width="2"/>
<line x1="369.2" y1="383.09" x2="436.6" y2="382.92" stroke="#444" stroke-width="0.7"/>
<polyline points="429.8,377.14 436.6,382.92 429.8,388.74" fill="none" stroke="#444" stroke-width="0.7"/>
<line x1="369.2" y1="416.49" x2="436.6" y2="416.32" stroke="#444" stroke-width="0.7"/>
<polyline points="375.4,410.08 369.2,416.49 375.4,422.88" fill="none" stroke="#444" stroke-width="0.7"/>
<text x="413.6" y="381.3" font-size="7" text-anchor="middle" fill="#222" stroke="#222" stroke-width="0.42" textLength="21.5" lengthAdjust="spacingAndGlyphs">9x16,1</text>
<text x="413.4" y="389.5" font-size="7" text-anchor="middle" fill="#222" stroke="#222" stroke-width="0.42" textLength="15.4" lengthAdjust="spacingAndGlyphs">8x30</text>
<text x="413.4" y="414.7" font-size="7" text-anchor="middle" fill="#222" stroke="#222" stroke-width="0.42" textLength="21.5" lengthAdjust="spacingAndGlyphs">9x16,1</text>
<text x="413.4" y="423.1" font-size="7" text-anchor="middle" fill="#222" stroke="#222" stroke-width="0.42" textLength="15.4" lengthAdjust="spacingAndGlyphs">8x30</text>
<path d="M478.9 354.05 A22 22 0 0 1 500.9 332.05" fill="none" stroke="#5a5a5a" stroke-width="0.8"/>
<path d="M485.3 354.05 A15.6 15.6 0 0 1 500.9 338.45" fill="none" stroke="#5a5a5a" stroke-width="0.8"/>
<rect x="478.9" y="354.7" width="4.8" height="16.6" fill="none" stroke="#5a5a5a" stroke-width="0.8" rx="1.2"/>
<rect x="478.9" y="373.1" width="4.8" height="19.6" fill="none" stroke="#5a5a5a" stroke-width="0.8" rx="1.2"/>
<rect x="486.8" y="354.67" width="13.5" height="16.6" fill="none" stroke="#5a5a5a" stroke-width="0.8" rx="0.8"/>
<rect x="486.8" y="373.07" width="13.5" height="19.6" fill="none" stroke="#5a5a5a" stroke-width="0.8" rx="0.8"/>
<line x1="486.8" y1="393.99" x2="500.3" y2="393.95" stroke="#5a5a5a" stroke-width="0.8"/>
<rect x="502.7" y="331.03" width="15.4" height="5.2" fill="none" stroke="#5a5a5a" stroke-width="0.8" rx="1.2"/>
<rect x="520.5" y="330.98" width="15.3" height="5.2" fill="none" stroke="#5a5a5a" stroke-width="0.8" rx="1.2"/>
<rect x="538.2" y="330.93" width="14.4" height="5.2" fill="none" stroke="#5a5a5a" stroke-width="0.8" rx="1.2"/>
<rect x="502.7" y="339.93" width="15.4" height="13.5" fill="none" stroke="#5a5a5a" stroke-width="0.8" rx="0.8"/>
<rect x="520.5" y="339.88" width="15.3" height="13.5" fill="none" stroke="#5a5a5a" stroke-width="0.8" rx="0.8"/>
<rect x="538.2" y="339.83" width="14.4" height="13.5" fill="none" stroke="#5a5a5a" stroke-width="0.8" rx="0.8"/>
<path d="M486.8 353.9 L486.8 350 A13.5 10 0 0 1 500.3 340.4 L500.3 353.9 Z" fill="none" stroke="#5a5a5a" stroke-width="0.8"/>
<path d="M552.6 331.5 Q556.6 334.1 552.6 336.7" fill="none" stroke="#5a5a5a" stroke-width="0.8"/>
<circle cx="523" cy="378.49" r="12.3" fill="none" stroke="#555" stroke-width="0.8"/>
<g transform="translate(547.6 391.73) rotate(47)">
<rect x="-7.2" y="-7.6" width="14.4" height="15.2" fill="none" stroke="#555" stroke-width="0.8" rx="1.2"/>
<rect x="7.6" y="-8.6" width="6.4" height="17.2" fill="none" stroke="#555" stroke-width="0.8" rx="2.4"/>
<line x1="-3.2" y1="-2" x2="0.6" y2="-2" stroke="#555" stroke-width="0.6"/>
<line x1="8.6" y1="-1" x2="12.4" y2="-1" stroke="#555" stroke-width="0.6"/>
</g>
<line x1="562.6" y1="407.69" x2="585.4" y2="407.63" stroke="#555" stroke-width="0.7"/>
<path d="M561.8 407.63 A23.5 23.5 0 0 1 582.03 384.36" fill="none" stroke="#444" stroke-width="0.7"/>
<line x1="477" y1="414.61" x2="547.3" y2="414.43" stroke="#444" stroke-width="0.7"/>
<line x1="547.3" y1="414.43" x2="547.3" y2="431.63" stroke="#555" stroke-width="0.7"/>
<line x1="547.3" y1="423.73" x2="585.4" y2="423.63" stroke="#555" stroke-width="0.7"/>
<line x1="568.6" y1="414.37" x2="568.6" y2="431.57" stroke="#555" stroke-width="0.7"/>
<line x1="563.5" y1="414.39" x2="585.4" y2="414.33" stroke="#555" stroke-width="0.7"/>
<rect x="513.3" y="416.59" width="19.6" height="8.4" fill="none" stroke="#444" stroke-width="0.9"/>
<rect x="516.3" y="424.99" width="14.1" height="6.1" fill="none" stroke="#666" stroke-width="0.8"/>
<line x1="534.7" y1="408.36" x2="525.5" y2="416.59" stroke="#444" stroke-width="0.7"/>
<line x1="512.6" y1="409.02" x2="520" y2="414.1" stroke="#444" stroke-width="0.7"/>
<circle cx="475.8" cy="589.62" r="0.7" fill="#444" stroke="#444" stroke-width="0.3"/>
</g></g>
</svg>
</body></html>
